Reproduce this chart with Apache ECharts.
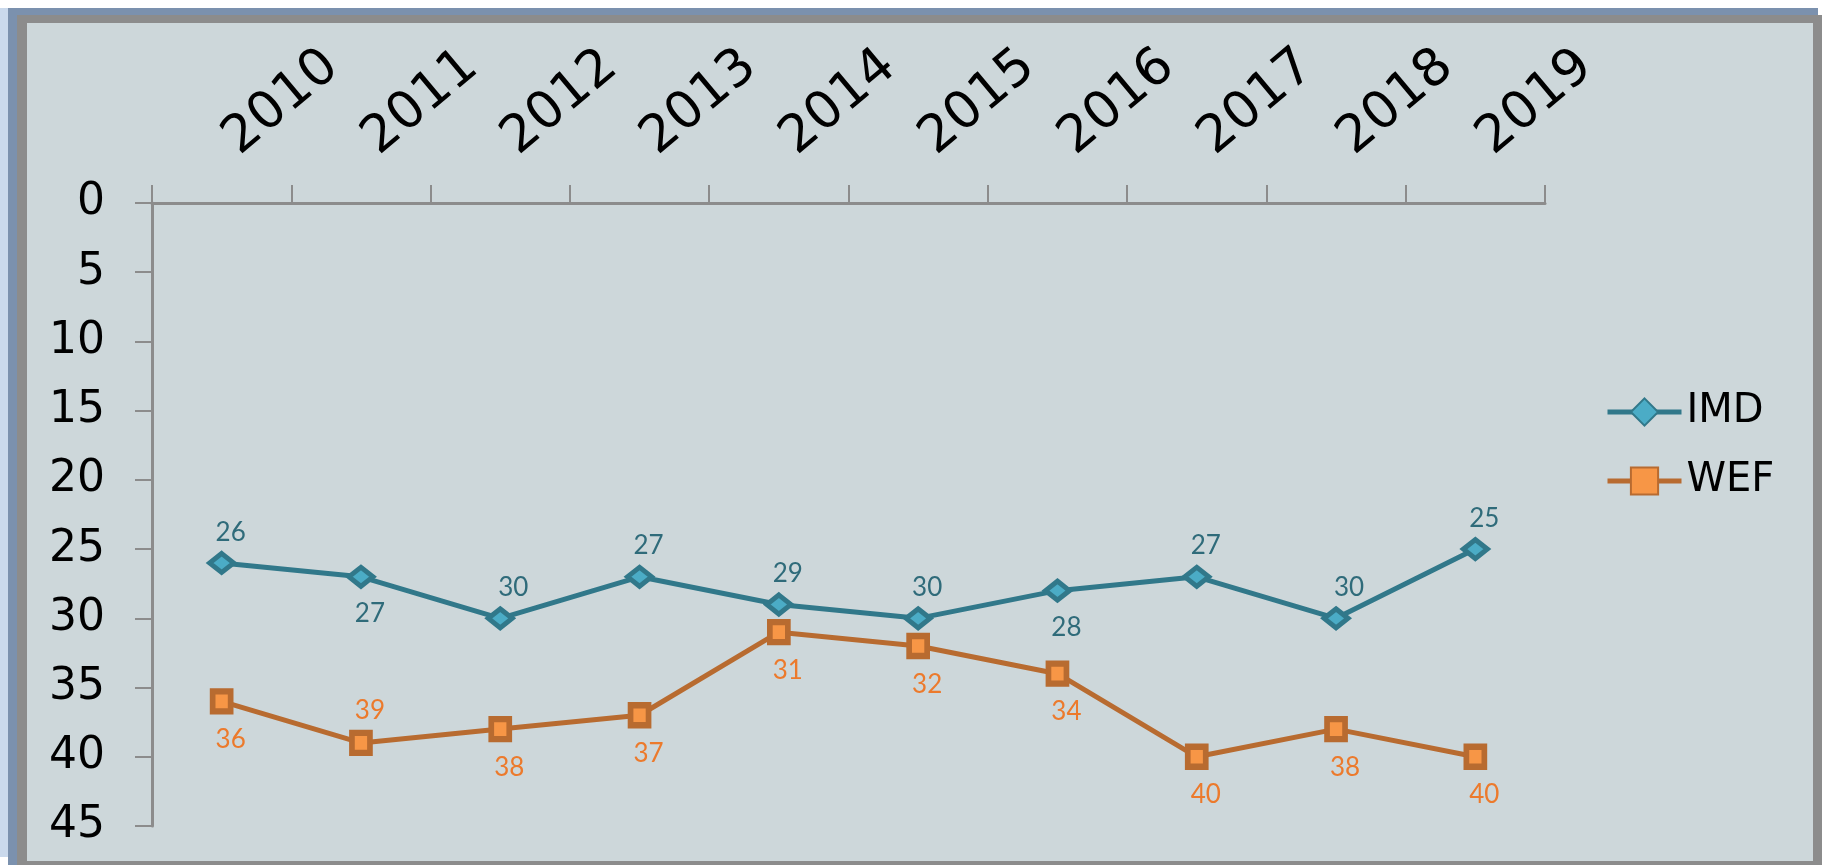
<!DOCTYPE html>
<html>
<head>
<meta charset="utf-8">
<title>IMD / WEF</title>
<script src="https://cdn.jsdelivr.net/npm/echarts@6.0.0/dist/echarts.min.js"></script>
<style>
    body {
        margin: 0;
        background: #fff;
    }
    .frame {
        position: absolute;
    }
    .strip { left: 0; top: 8px; width: 8px; height: 849px; background: #cad9ec; }
    .band { left: 8px; top: 8px; width: 1810px; height: 857px; background: #7b91ae; }
    .edge { left: 17px; top: 15px; width: 1805px; height: 850px; background: #8c8c8c; }
    .plate { left: 27px; top: 23px; width: 1786px; height: 838px; background: #cdd7da; }
    #chart {
        position: absolute;
        left: 0;
        top: 0;
        width: 1825px;
        height: 865px;
    }
</style>
</head>
<body>
<div class="frame strip"></div>
<div class="frame band"></div>
<div class="frame edge"></div>
<div class="frame plate"></div>
<div id="chart"></div>
<script>
const years = ['2010', '2011', '2012', '2013', '2014', '2015', '2016', '2017', '2018', '2019'];
const imd = [26, 27, 30, 27, 29, 30, 28, 27, 30, 25];
const wef = [36, 39, 38, 37, 31, 32, 34, 40, 38, 40];
const rankTicks = [0, 45, 5]; // min, max, step

// where each data label sits (top / bottom), as in the original
const imdLabelPos = ['top', 'bottom', 'top', 'top', 'top', 'top', 'bottom', 'top', 'top', 'top'];
const wefLabelPos = ['bottom', 'top', 'bottom', 'bottom', 'bottom', 'bottom', 'bottom', 'bottom', 'bottom', 'bottom'];

function withLabels(values, places, dx) {
    return values.map((v, i) => ({
        value: v,
        label: {
            position: places[i],
            distance: places[i] === 'top' ? 6 : 12,
            offset: [dx[i] || 9, 0],
        },
    }));
}

const chart = echarts.init(document.getElementById('chart'));
chart.setOption({
    backgroundColor: 'transparent',
    animation: false,
    grid: {
        left: 152,
        right: 280,
        top: 203,
        bottom: 39,
    },
    legend: {
        orient: 'vertical',
        left: 1600,
        top: 385,
        itemWidth: 74,
        itemHeight: 34,
        itemGap: 25,
        data: ['IMD', 'WEF'],
        lineStyle: { width: 5 },
        textStyle: {
            fontFamily: 'DejaVu Sans',
            fontSize: 40,
            lineHeight: 44,
            color: '#000',
        },
    },
    xAxis: {
        type: 'category',
        position: 'top',
        data: years,
        boundaryGap: true,
        axisLine: { show: true, lineStyle: { color: '#8c8c8c', width: 3 } },
        axisTick: { show: true, alignWithLabel: false, interval: 0, length: 18, lineStyle: { color: '#8c8c8c', width: 2 } },
        axisLabel: {
            rotate: 40,
            margin: 50,
            padding: [0, 0, 0, 12],
            fontFamily: 'DejaVu Sans',
            fontSize: 52,
            color: '#000',
            interval: 0,
        },
        splitLine: { show: false },
    },
    yAxis: {
        type: 'value',
        inverse: true,
        min: rankTicks[0],
        max: rankTicks[1],
        interval: rankTicks[2],
        axisLine: { show: true, lineStyle: { color: '#8c8c8c', width: 3 } },
        axisTick: { show: true, length: 17, lineStyle: { color: '#8c8c8c', width: 2 } },
        axisLabel: {
            margin: 47,
            fontFamily: 'DejaVu Sans',
            fontSize: 44,
            color: '#000',
        },
        splitLine: { show: false },
    },
    series: [
        {
            name: 'IMD',
            type: 'line',
            data: withLabels(imd, imdLabelPos, [9, 9, 13, 9, 9, 9, 9, 9, 13, 9]),
            symbol: 'diamond',
            symbolSize: [24, 19],
            lineStyle: { color: '#31788a', width: 5 },
            itemStyle: { color: '#4bacc6', borderColor: '#31788a', borderWidth: 5 },
            label: {
                show: true,
                fontFamily: 'Lato',
                fontSize: 26,
                color: '#2f6b7a',
            },
        },
        {
            name: 'WEF',
            type: 'line',
            data: withLabels(wef, wefLabelPos, []),
            symbol: 'rect',
            symbolSize: [18, 20],
            lineStyle: { color: '#b86b30', width: 5 },
            itemStyle: { color: '#f79646', borderColor: '#b86b30', borderWidth: 6 },
            label: {
                show: true,
                fontFamily: 'Lato',
                fontSize: 26,
                color: '#ec7a2c',
            },
        },
    ],
});
</script>
</body>
</html>
